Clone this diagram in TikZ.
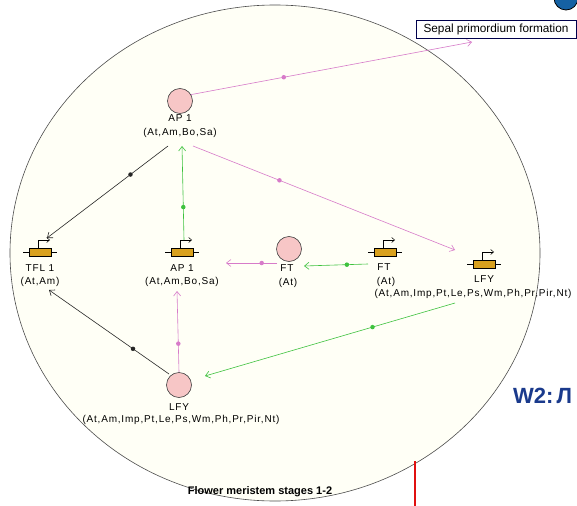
\documentclass[tikz,border=0pt]{standalone}
\usepackage{fontspec}
\setmainfont{Liberation Sans}
\newfontfamily\lblfont[LetterSpace=8]{Liberation Sans}
\usetikzlibrary{arrows.meta}

\definecolor{meristem}{rgb}{1,1,0.965}
\definecolor{linkmag}{HTML}{D77BC9}
\definecolor{linkgrn}{HTML}{3EC23E}
\definecolor{protpink}{HTML}{F7C6C6}
\definecolor{genegold}{HTML}{D9A11E}
\definecolor{slideblue}{HTML}{1A3A8C}
\definecolor{barred}{HTML}{E01010}

\tikzset{
  protein/.style={circle, draw=black!75, fill=protpink, minimum size=25pt, inner sep=0pt, line width=0.6pt},
  genebox/.style={rectangle, draw=black, fill=genegold, minimum width=22pt, minimum height=8pt, inner sep=0pt, line width=0.5pt},
  lbl/.style={font=\lblfont\fontsize{10}{11}\selectfont, inner sep=0pt},
  link/.style={line width=0.6pt, -{Straight Barb[length=4.5pt,width=7pt]}},
  dot/.style={circle, fill, inner sep=0pt, minimum size=4.5pt},
  gene/.pic={
    \draw[line width=0.5pt] (-17,0) -- (17,0);
    \node[genebox] (-box) at (0,0) {};
    \draw[line width=0.5pt, -{Straight Barb[length=3pt,width=5pt]}] (-2,-4) -- (-2,-12) -- (10,-12);
  }
}

\begin{document}
\begin{tikzpicture}[x=1pt, y=-1pt]
  \useasboundingbox (0,0) rectangle (577,505);
  \clip (0,0) rectangle (577,505);
  \fill[white] (0,0) rectangle (577,505);

  % corner fragments of the surrounding slide
  \draw[fill=slideblue!80!cyan, draw=black, line width=0.8pt] (566,-2) ellipse [x radius=12pt, y radius=12pt];
  \node[anchor=base west, inner sep=0pt, text=slideblue, font=\bfseries\fontsize{22}{24}\selectfont] (w2) at (513,403) {W2:\kern3pt Л};

  % meristem outline
  \draw[fill=meristem, draw=black!70, line width=0.6pt] (275,253) ellipse [x radius=265pt, y radius=248pt];
  \node[inner sep=0pt, font=\bfseries\fontsize{11}{12}\selectfont] (stage) at (260,492) {Flower meristem stages 1-2};

  \draw[barred, line width=1.5pt] (415,461) coordinate (bartop) -- (415,506) coordinate (barbot);

  % output box
  \node[draw=black!70!blue, fill=white, line width=0.7pt, minimum width=160pt, minimum height=18pt, inner sep=0pt,
        font=\fontsize{11.8}{12}\selectfont] (sepal) at (496,29) {Sepal primordium formation};

  % proteins
  \node[protein] (ap1p) at (180,101) {};
  \node[lbl] (ap1pn) at (180,118) {AP 1};
  \node[lbl] (ap1pa) at (180,133) {(At,Am,Bo,Sa)};

  \node[protein] (ftp) at (289,249) {};
  \node[lbl] (ftpn) at (287,268) {FT};
  \node[lbl] (ftpa) at (288,283) {(At)};

  \node[protein] (lfyp) at (179,385) {};
  \node[lbl] (lfypn) at (179,407) {LFY};
  \node[lbl] (lfypa) at (181,420) {(At,Am,Imp,Pt,Le,Ps,Wm,Ph,Pr,Pir,Nt)};

  % genes
  \pic (tfl) at (40,252) {gene};
  \node[lbl] (tfln) at (40,268) {TFL 1};
  \node[lbl] (tfla) at (40,282) {(At,Am)};

  \pic (ap1g) at (182,252) {gene};
  \node[lbl] (ap1gn) at (182,268) {AP 1};
  \node[lbl] (ap1ga) at (182,282) {(At,Am,Bo,Sa)};

  \pic (ftg) at (385,252) {gene};
  \node[lbl] (ftgn) at (384,267) {FT};
  \node[lbl] (ftga) at (386,282) {(At)};

  \pic (lfyg) at (484,264) {gene};
  \node[lbl] (lfygn) at (484,279) {LFY};
  \node[lbl] (lfyga) at (473,294) {(At,Am,Imp,Pt,Le,Ps,Wm,Ph,Pr,Pir,Nt)};

  % connector ends
  \coordinate (sepalin) at (472,42);
  \coordinate (ap1out) at (168,146);
  \coordinate (ap1in) at (182,146);
  \coordinate (ap1out2) at (193,146);
  \coordinate (tflin) at (47,238);
  \coordinate (tflin2) at (49,290);
  \coordinate (ap1gout) at (184,240);
  \coordinate (lfygin) at (455,250);
  \coordinate (ftgout) at (368,264);
  \coordinate (ftpin) at (304,266);
  \coordinate (ftpout) at (277,263);
  \coordinate (ap1gin) at (226,263);
  \coordinate (ap1gin2) at (177,291);
  \coordinate (lfygout) at (455,303);
  \coordinate (lfypin) at (205,376);
  \coordinate (lfypout) at (179,372);
  \coordinate (lfypout2) at (169,374);

  % interactions
  \draw[link, linkmag] (ap1p.30) -- node[dot, pos=0.33] {} (sepalin);
  \draw[link, black!85] (ap1out) -- node[dot, pos=0.31] {} (tflin);
  \draw[link, linkgrn] (ap1gout) -- node[dot, pos=0.35] {} (ap1in);
  \draw[link, linkmag] (ap1out2) -- node[dot, pos=0.33] {} (lfygin);
  \draw[link, linkgrn] (ftgout) -- node[dot, pos=0.33] {} (ftpin);
  \draw[link, linkmag] (ftpout) -- node[dot, pos=0.3] {} (ap1gin);
  \draw[link, linkgrn] (lfygout) -- node[dot, pos=0.33] {} (lfypin);
  \draw[link, linkmag] (lfypout) -- node[dot, pos=0.35] {} (ap1gin2);
  \draw[link, black!85] (lfypout2) -- node[dot, pos=0.3] {} (tflin2);
\end{tikzpicture}
\end{document}
